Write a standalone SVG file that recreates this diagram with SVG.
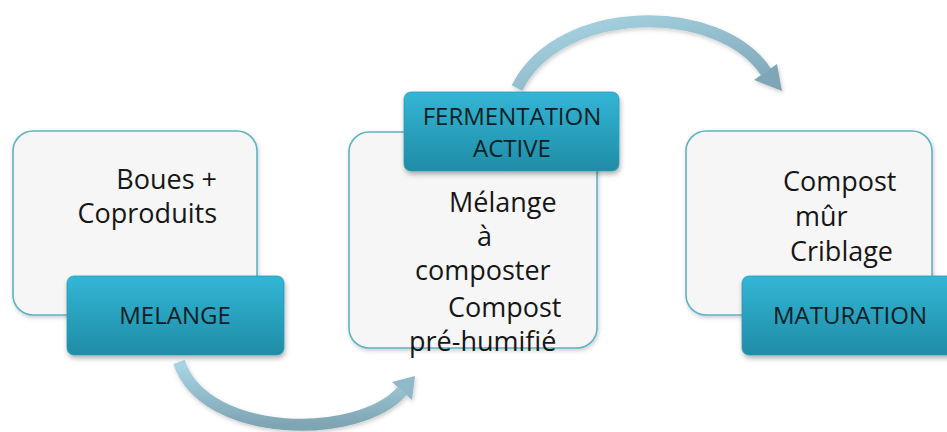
<svg xmlns="http://www.w3.org/2000/svg" width="947" height="432" viewBox="0 0 947 432">
<defs>
<linearGradient id="lab" x1="0" y1="0" x2="0" y2="1">
<stop offset="0" stop-color="#33b6d6"/>
<stop offset="1" stop-color="#1f8ca6"/>
</linearGradient>
<linearGradient id="arrT" x1="0" y1="0" x2="1" y2="1">
<stop offset="0" stop-color="#a9d6e6"/>
<stop offset="1" stop-color="#7ea6b6"/>
</linearGradient>
<linearGradient id="arrB" x1="0" y1="0" x2="0" y2="1">
<stop offset="0" stop-color="#a9d6e6"/>
<stop offset="1" stop-color="#7fa5b4"/>
</linearGradient>
<filter id="sh" x="-10%" y="-10%" width="125%" height="130%">
<feDropShadow dx="1" dy="3" stdDeviation="2.5" flood-color="#000" flood-opacity="0.3"/>
</filter>
<filter id="sh2" x="-10%" y="-10%" width="125%" height="130%">
<feDropShadow dx="1" dy="2" stdDeviation="2" flood-color="#000" flood-opacity="0.2"/>
</filter>
</defs>
<style>
.card{fill:#f6f6f6;stroke:#5fb1c8;stroke-width:1.6;filter:url(#sh2)}
.lab{fill:url(#lab);stroke:#2a9ab6;stroke-width:0.8;filter:url(#sh)}
.t{font-family:"Open Sans",sans-serif;font-size:27px;fill:#161616}
.lt{font-family:"Open Sans",sans-serif;font-size:24px;fill:#0e1e24;text-anchor:middle}
</style>
<g id="connectors" filter="url(#sh2)">
<path d="M517,88 C560,2 720,2 766,72" fill="none" stroke="url(#arrT)" stroke-width="12"/>
<polygon points="782,91 777,64 754,80" fill="#7ea6b6"/>
<path d="M179,362 C205,440 360,440 402,391" fill="none" stroke="url(#arrB)" stroke-width="12"/>
<polygon points="415,376 392,382 412,400" fill="#8fb8c8"/>
</g>
<g id="node-melange">
<rect class="card" x="13" y="131" width="244" height="184" rx="20"/>
<text class="t" text-anchor="end"><tspan x="217" y="189">Boues +</tspan><tspan x="217" y="223">Coproduits</tspan></text>
<rect class="lab" x="67" y="276" width="217" height="79" rx="7"/>
<text class="lt" x="175" y="324">MELANGE</text>
</g>
<g id="node-fermentation">
<rect class="card" x="349" y="132" width="248" height="216" rx="20"/>
<rect class="lab" x="404" y="92" width="215" height="79" rx="7"/>
<text class="lt"><tspan x="512" y="125">FERMENTATION</tspan><tspan x="512" y="157">ACTIVE</tspan></text>
<text class="t"><tspan x="449" y="212">Mélange</tspan><tspan x="477" y="246">à</tspan><tspan x="415" y="280">composter</tspan><tspan x="448" y="317">Compost</tspan><tspan x="409" y="351">pré-humifié</tspan></text>
</g>
<g id="node-maturation">
<rect class="card" x="686" y="131" width="246" height="184" rx="20"/>
<text class="t"><tspan x="783" y="191">Compost</tspan><tspan x="795" y="226">mûr</tspan><tspan x="790" y="261">Criblage</tspan></text>
<rect class="lab" x="742" y="276" width="217" height="79" rx="7"/>
<text class="lt" x="850" y="324">MATURATION</text>
</g>
</svg>
